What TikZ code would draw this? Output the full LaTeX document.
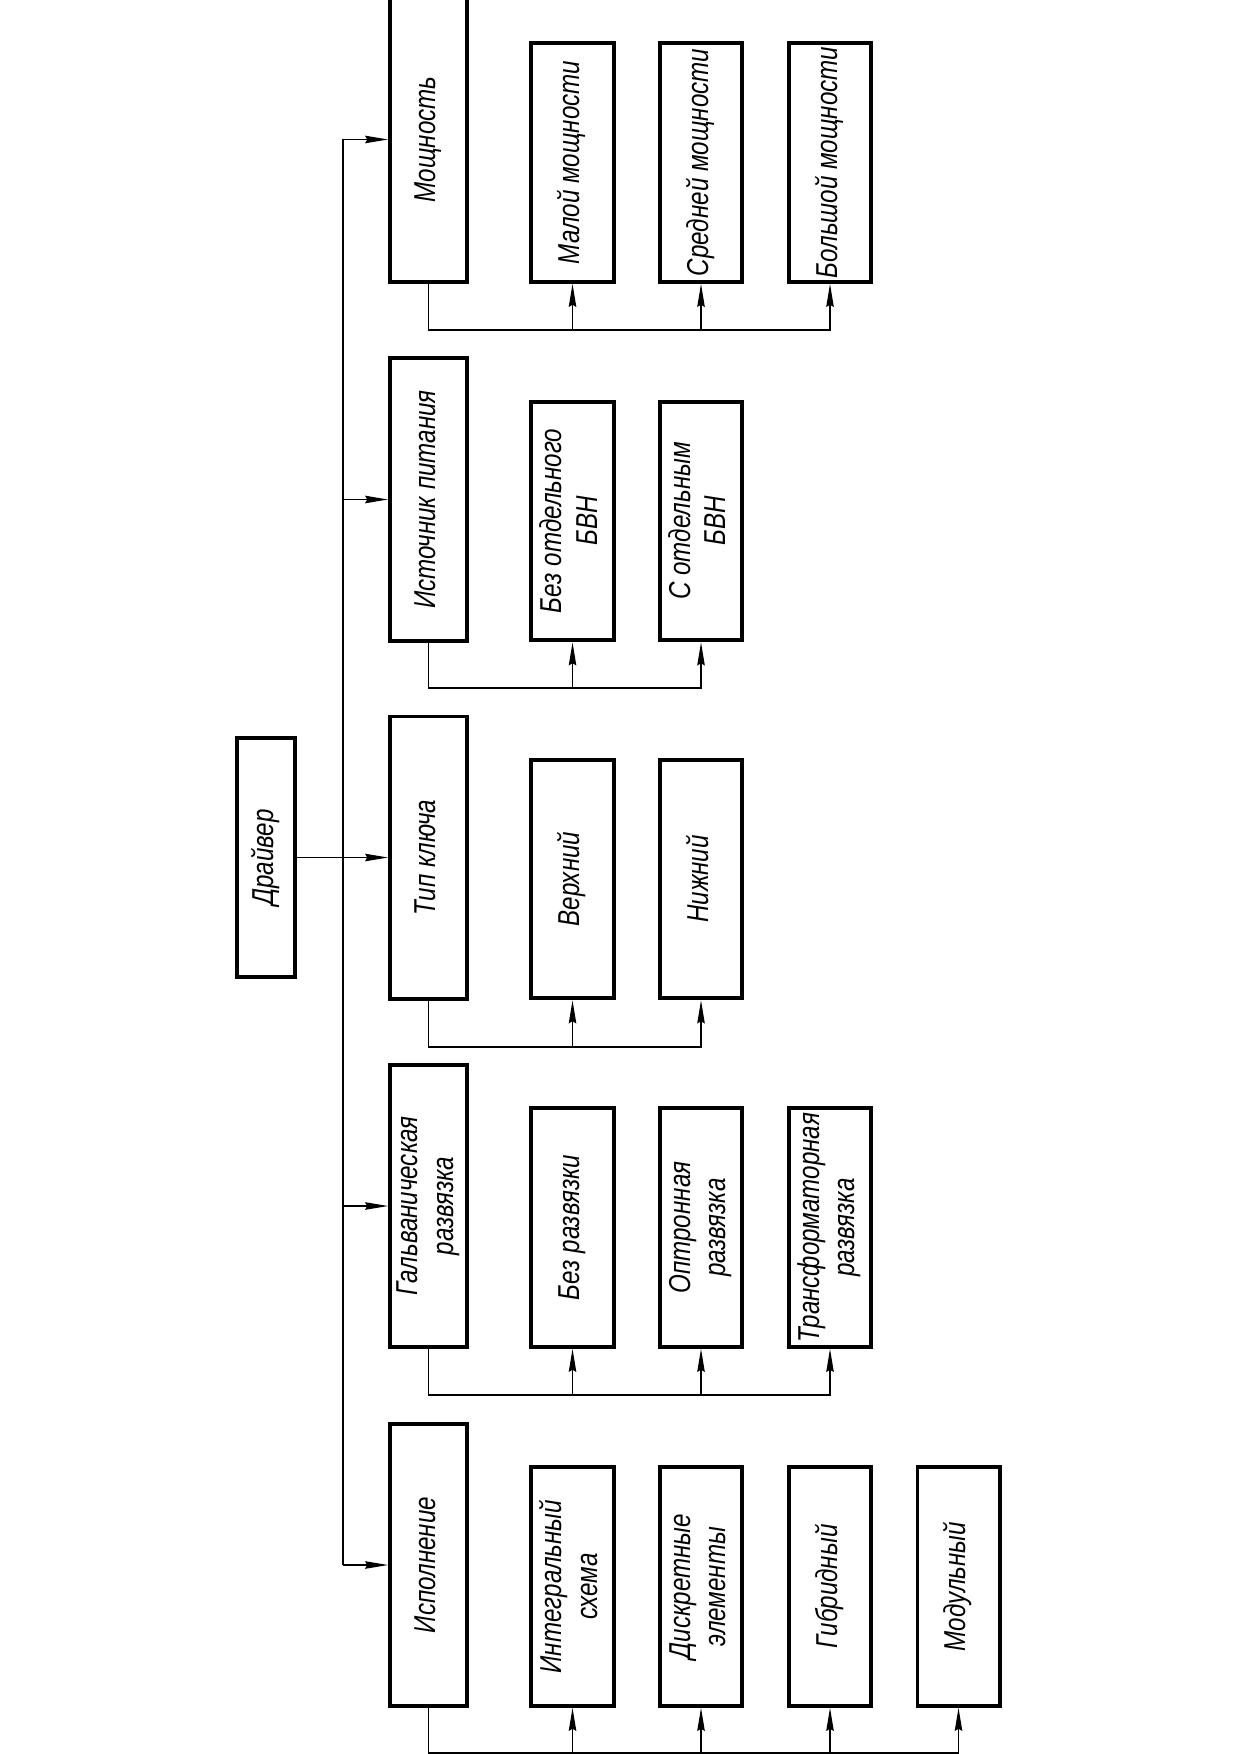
\documentclass[tikz,border=0pt]{standalone}
\usepackage{fontspec}
\usepackage{graphicx}
\setmainfont{Liberation Sans}[FakeStretch=0.8]
\usetikzlibrary{arrows.meta}
% upright-reading label turned to run bottom-to-top, lines centred
\newcommand{\vtext}[1]{\rotatebox{90}{\begin{tabular}{@{}c@{}}#1\end{tabular}}}

\begin{document}
\begin{tikzpicture}[x=0.48006pt,y=-0.48006pt,
  every node/.style={font=\fontsize{14.5}{17}\selectfont\itshape},
  frame/.style={draw, line width=1.9pt, inner sep=0pt},
  mainbox/.style={frame, minimum width=36.96pt, minimum height=135.4pt},
  subbox/.style={frame, minimum width=39.4pt, minimum height=114.7pt},
  link/.style={line width=0.6pt},
  arr/.style={link, -{Stealth[length=11pt,width=3.6pt,inset=1pt]}}]

\useasboundingbox (0,0) rectangle (1240,1754);

% root
\node[frame, minimum width=27.84pt, minimum height=114.7pt] (drv) at (266,857.5) {\vtext{Драйвер}};

% categories
\node[mainbox, minimum height=136.8pt] (m1) at (428.5,139.5) {\vtext{Мощность}};
\node[mainbox] (m2) at (428.5,499.5) {\vtext{Источник питания}};
\node[mainbox] (m3) at (428.5,857.5) {\vtext{Тип ключа}};
\node[mainbox] (m4) at (428.5,1206) {\vtext{Гальваническая\\развязка}};
\node[mainbox] (m5) at (428.5,1565) {\vtext{Исполнение}};

% variants: power
\node[subbox] (c11) at (572.5,162.5) {\vtext{Малой мощности}};
\node[subbox] (c12) at (701,162.5) {\vtext{Средней мощности}};
\node[subbox] (c13) at (830,162.5) {\vtext{Большой мощности}};
% variants: supply
\node[subbox] (c21) at (572.5,521) {\vtext{Без отдельного\\БВН}};
\node[subbox] (c22) at (701,521) {\vtext{С отдельным\\БВН}};
% variants: switch type
\node[subbox] (c31) at (572.5,879) {\vtext{Верхний}};
\node[subbox] (c32) at (701,879) {\vtext{Нижний}};
% variants: isolation
\node[subbox] (c41) at (572.5,1227.5) {\vtext{Без развязки}};
\node[subbox] (c42) at (701,1227.5) {\vtext{Оптронная\\развязка}};
\node[subbox] (c43) at (830,1227.5) {\vtext{Трансформаторная\\развязка}};
% variants: construction
\node[subbox] (c51) at (572.5,1586.5) {\vtext{Интегральный\\схема}};
\node[subbox] (c52) at (701,1586.5) {\vtext{Дискретные\\элементы}};
\node[subbox] (c53) at (830,1586.5) {\vtext{Гибридный}};
\node[subbox] (c54) at (958.5,1586.5) {\vtext{Модульный}};

% trunk from the root to the categories
\coordinate (bus) at (343,857.5);
\draw[arr] (drv.east) -- (m3.west);
\draw[link] (bus |- m1.west) -- (bus |- m5.west);
\foreach \m in {m1,m2,m4,m5}
  \draw[arr] (bus |- \m.west) -- (\m.west);

% branch buses under each category
\coordinate (b1) at (428.5,330);
\coordinate (b2) at (428.5,688);
\coordinate (b3) at (428.5,1047);
\coordinate (b4) at (428.5,1395);
\coordinate (b5) at (428.5,1753);

\draw[arr] (m1.south) -- (b1) -| (c13.south);
\foreach \c in {c11,c12} \draw[arr] (b1 -| \c.south) -- (\c.south);

\draw[arr] (m2.south) -- (b2) -| (c22.south);
\draw[arr] (b2 -| c21.south) -- (c21.south);

\draw[arr] (m3.south) -- (b3) -| (c32.south);
\draw[arr] (b3 -| c31.south) -- (c31.south);

\draw[arr] (m4.south) -- (b4) -| (c43.south);
\foreach \c in {c41,c42} \draw[arr] (b4 -| \c.south) -- (\c.south);

\draw[arr] (m5.south) -- (b5) -| (c54.south);
\foreach \c in {c51,c52,c53} \draw[arr] (b5 -| \c.south) -- (\c.south);
\end{tikzpicture}
\end{document}
